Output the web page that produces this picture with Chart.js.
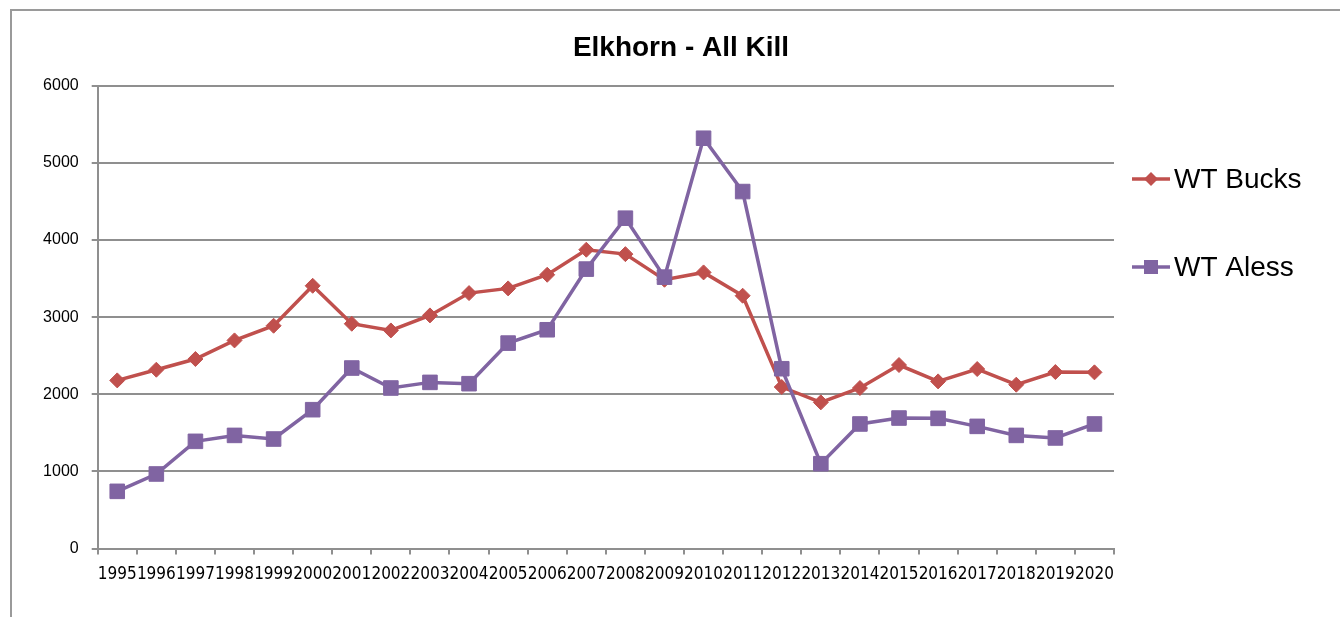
<!DOCTYPE html>
<html>
<head>
<meta charset="utf-8">
<title>Elkhorn - All Kill</title>
<script src="https://cdn.jsdelivr.net/npm/chart.js@4/dist/chart.umd.min.js"></script>
<style>
  html, body { margin: 0; padding: 0; background: #fff; overflow: hidden; }
  #frame {
    position: absolute; left: 10px; top: 9px; width: 1340px; height: 620px;
    border-left: 2px solid #9a9a9a; border-top: 2px solid #9a9a9a;
  }
  #chart { position: absolute; left: 0; top: 0; }
</style>
</head>
<body>
<div id="frame"></div>
<canvas id="chart" width="1340" height="617"></canvas>
<script>
'use strict';

var years = ['1995', '1996', '1997', '1998', '1999', '2000', '2001', '2002', '2003', '2004', '2005', '2006', '2007',
  '2008', '2009', '2010', '2011', '2012', '2013', '2014', '2015', '2016', '2017', '2018', '2019', '2020'];
var bucks = [2180, 2318, 2457, 2698, 2888, 3406, 2914, 2827, 3022, 3311, 3372, 3549, 3873,
  3816, 3484, 3579, 3277, 2094, 1895, 2081, 2379, 2167, 2327, 2124, 2288, 2284];
var aless = [742, 967, 1390, 1467, 1420, 1800, 2340, 2081, 2154, 2137, 2663, 2836, 3622,
  4282, 3518, 5318, 4627, 2331, 1100, 1615, 1692, 1688, 1584, 1467, 1434, 1615];
var yMin = 0;
var yMax = 6000;
var yStep = 1000;

var red = '#C0504D';
var purple = '#8064A2';
var gridColor = '#8f8f8f';
var font = '"Liberation Sans", Arial, sans-serif';

// legend drawn by hand so it sits where the original one does
var sideLegend = {
  id: 'sideLegend',
  afterDraw: function(chart) {
    var ctx = chart.ctx;
    var items = [
      {text: 'WT Bucks', color: red, shape: 'diamond', y: 179},
      {text: 'WT Aless', color: purple, shape: 'square', y: 267}
    ];
    ctx.save();
    for (var i = 0; i < items.length; i++) {
      var item = items[i];
      ctx.strokeStyle = item.color;
      ctx.fillStyle = item.color;
      ctx.lineWidth = 3.5;
      ctx.beginPath();
      ctx.moveTo(1132, item.y);
      ctx.lineTo(1170, item.y);
      ctx.stroke();
      ctx.beginPath();
      if (item.shape === 'diamond') {
        ctx.moveTo(1151 - 7, item.y);
        ctx.lineTo(1151, item.y - 7);
        ctx.lineTo(1151 + 7, item.y);
        ctx.lineTo(1151, item.y + 7);
        ctx.closePath();
      } else {
        ctx.rect(1151 - 7, item.y - 7, 14, 14);
      }
      ctx.fill();
      ctx.fillStyle = '#000';
      ctx.font = '28px ' + font;
      ctx.textBaseline = 'middle';
      ctx.textAlign = 'left';
      ctx.fillText(item.text, 1174, item.y + 1);
    }
    ctx.restore();
  }
};

var ctx = document.getElementById('chart');

var chart = new Chart(ctx, {
  type: 'line',
  data: {
    labels: years,
    datasets: [
      {
        label: 'WT Bucks',
        data: bucks,
        borderColor: red,
        backgroundColor: red,
        borderWidth: 3.5,
        pointStyle: 'rectRot',
        pointRadius: 7.5,
        pointBorderWidth: 1,
        tension: 0,
        order: 2
      },
      {
        label: 'WT Aless',
        data: aless,
        borderColor: purple,
        backgroundColor: purple,
        borderWidth: 3.5,
        pointStyle: 'rect',
        pointRadius: 10.3,
        pointBorderWidth: 1,
        tension: 0,
        order: 1
      }
    ]
  },
  options: {
    responsive: false,
    animation: false,
    devicePixelRatio: 1,
    layout: {padding: {left: 22, right: 0, top: 0, bottom: 22}},
    plugins: {
      legend: {display: false},
      tooltip: {enabled: false},
      title: {
        display: true,
        text: 'Elkhorn - All Kill',
        color: '#000',
        font: {family: font, size: 28, weight: 'bold', lineHeight: 1.2},
        padding: {top: 31, bottom: 21}
      }
    },
    scales: {
      x: {
        offset: true,
        grid: {display: true, drawOnChartArea: false, offset: true, tickLength: 6, color: gridColor, lineWidth: 2},
        border: {color: gridColor, width: 2},
        ticks: {
          autoSkip: false, maxRotation: 0, minRotation: 0, padding: 10, color: '#000',
          font: {family: '"Liberation Sans Narrow", "DejaVu Sans Condensed", Arial, sans-serif', size: 17}
        }
      },
      y: {
        min: yMin,
        max: yMax,
        grid: {color: gridColor, lineWidth: 2, tickLength: 6},
        border: {color: gridColor, width: 2},
        ticks: {
          stepSize: yStep, padding: 13, color: '#000',
          font: {family: font, size: 16},
          callback: function(value) { return value; }
        },
        afterFit: function(scale) { scale.width = 75.7; }
      },
      // empty axis that keeps room for the legend on the right
      side: {
        type: 'linear',
        position: 'right',
        display: true,
        grid: {display: false},
        border: {display: false},
        ticks: {display: false},
        afterFit: function(scale) { scale.width = 226; }
      }
    }
  },
  plugins: [sideLegend]
});
</script>
</body>
</html>
